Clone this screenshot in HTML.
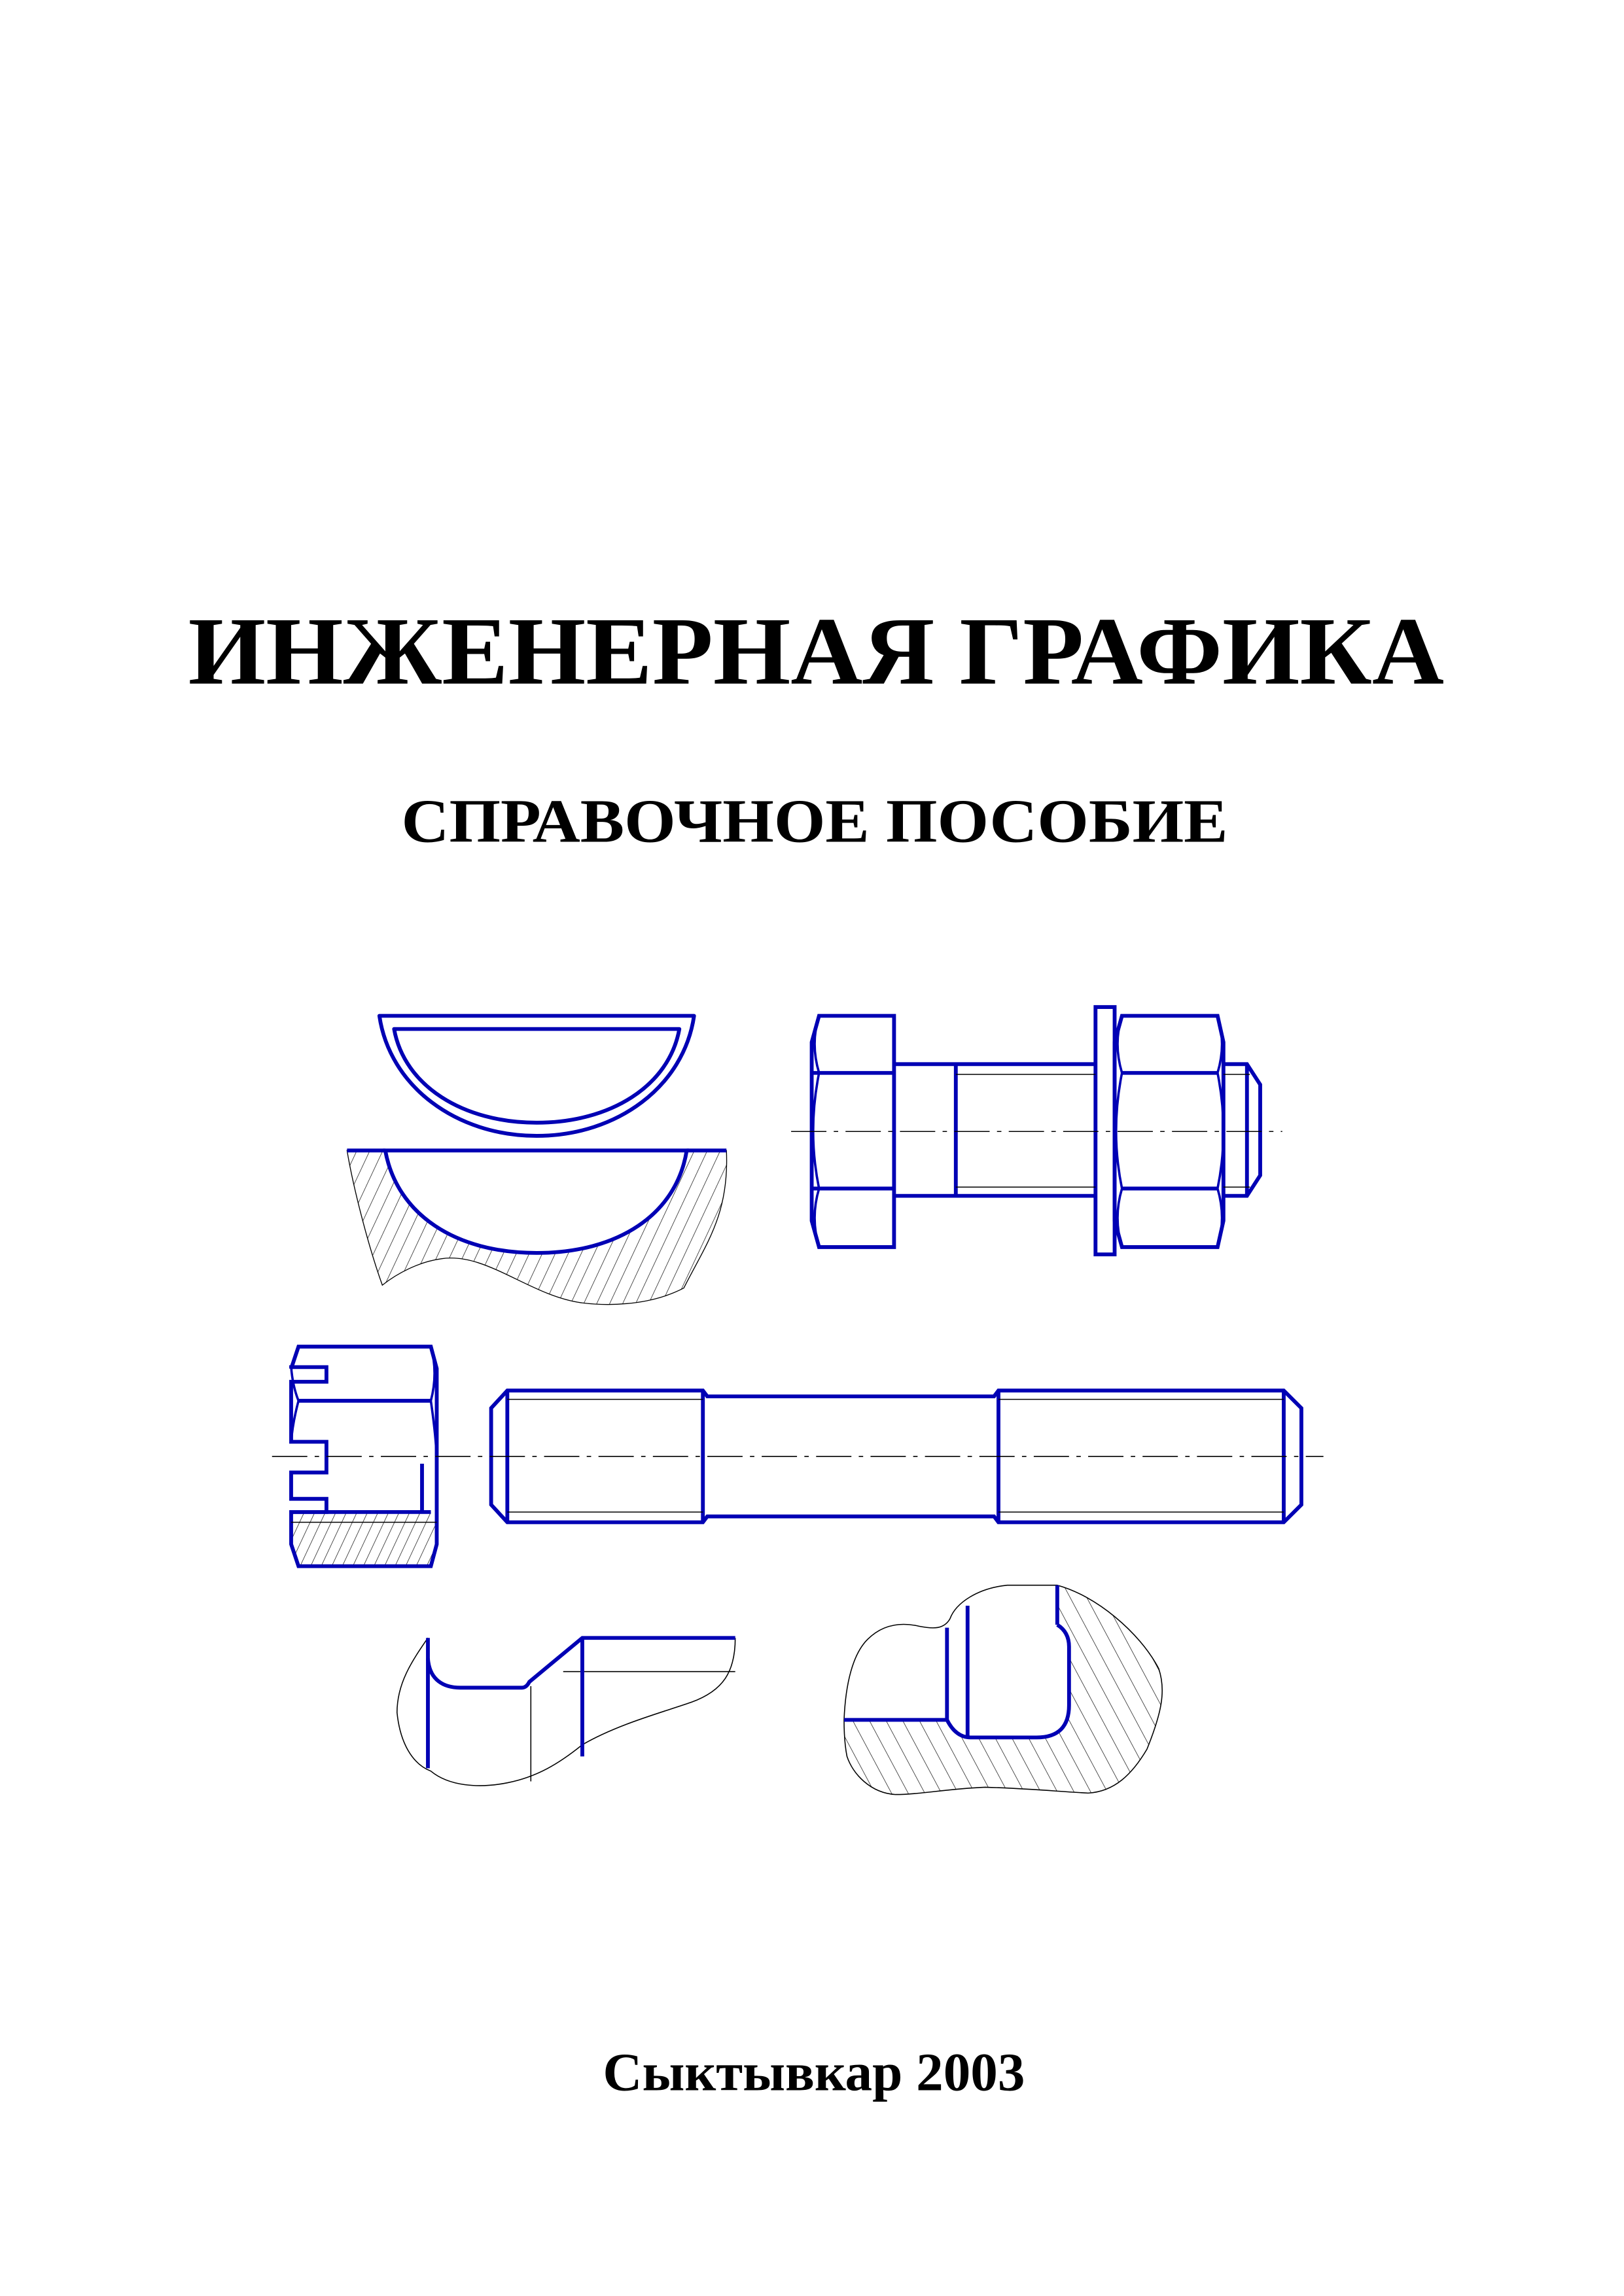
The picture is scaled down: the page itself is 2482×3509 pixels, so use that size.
<!DOCTYPE html>
<html><head><meta charset="utf-8"><style>
html,body{margin:0;padding:0;background:#fff;}
svg{display:block;}
</style></head><body>
<svg width="2482" height="3509" viewBox="0 0 1104.4 1568.6" preserveAspectRatio="none" xmlns="http://www.w3.org/2000/svg">
<defs>
<pattern id="h1" width="8" height="8" patternUnits="userSpaceOnUse" patternTransform="rotate(25)">
<line x1="0" y1="0" x2="0" y2="8" stroke="#000" stroke-width="0.6"/></pattern>
<pattern id="h2" width="10" height="10" patternUnits="userSpaceOnUse" patternTransform="rotate(-28)">
<line x1="0" y1="0" x2="0" y2="10" stroke="#000" stroke-width="0.6"/></pattern>
<pattern id="h3" width="6.5" height="6.5" patternUnits="userSpaceOnUse" patternTransform="rotate(25)">
<line x1="0" y1="0" x2="0" y2="6.5" stroke="#000" stroke-width="0.6"/></pattern>
</defs>
<rect width="1104.4" height="1568.6" fill="#fff"/>
<g font-family="'Liberation Serif','Noto Serif CJK SC',serif" font-weight="bold" fill="#000" text-anchor="start">
<text x="128" y="467" font-size="66" textLength="854" lengthAdjust="spacingAndGlyphs">ИНЖЕНЕРНАЯ ГРАФИКА</text>
<text x="273" y="575" font-size="42" textLength="562" lengthAdjust="spacingAndGlyphs">СПРАВОЧНОЕ ПОСОБИЕ</text>
<text x="410" y="1428" font-size="37" textLength="287" lengthAdjust="spacingAndGlyphs">Сыктывкар 2003</text>
</g>

<g fill="none" stroke="#0000b4" stroke-width="2.6" stroke-linejoin="round">
<path d="M258,694 L472,694 C465,742 420,776 365,776 C310,776 265,742 258,694 Z"/>
<path d="M268,703 L462,703 C455,742 415,767 365,767 C315,767 275,742 268,703 Z"/>
</g>
<path d="M236,786 L262,786 C270,830 310,856 365,856 C420,856 460,830 467,786 L494,786 C496,830 480,850 465,880 C440,893 410,892 395,890 C360,885 330,855 300,860 C285,862 270,870 260,878 C250,850 240,810 236,786 Z" fill="url(#h1)" stroke="#000" stroke-width="0.6"/>
<g fill="none" stroke="#0000b4" stroke-width="2.6">
<path d="M236,786 L262,786 M467,786 L494,786"/>
<path d="M262,786 L467,786 C460,830 420,856 365,856 C310,856 270,830 262,786 Z" fill="#fff"/>

<path d="M557,694 L608,694 L608,852 L557,852 L552,834 L552,712 Z"/>
<path d="M552,733 L608,733 M552,812 L608,812"/>
<path d="M557,694 Q551,713 557,733 M557,733 Q549,773 557,812 M557,812 Q551,832 557,852" stroke-width="1.6"/>
<path d="M608,727 Q610,727 612,727 L745,727 M608,817 L745,817 M650,727 L650,817"/>
<rect x="745" y="688" width="13" height="169"/>
<path d="M763,694 L828,694 L832,712 L832,834 L828,852 L763,852 L758,834 L758,712 Z"/>
<path d="M763,733 L828,733 M763,812 L828,812"/>
<path d="M763,694 Q757,713 763,733 M828,694 Q834,713 828,733 M763,733 Q755,773 763,812 M828,733 Q836,773 828,812 M763,812 Q757,832 763,852 M828,812 Q834,832 828,852" stroke-width="1.6"/>
<path d="M832,727 L848,727 L857,741 L857,803 L848,817 L832,817 M848,727 L848,817"/>
</g>
<g stroke="#000" stroke-width="0.7" fill="none">
<path d="M650,734 L745,734 M650,811 L745,811 M832,734 L850,734 M832,811 L850,811"/>
<path d="M538,773 L872,773" stroke-dasharray="24,5,3,5"/>
</g>

<path d="M198,1033 L293,1033 L297,1048 L297,1060 L293,1070 L203,1070 L198,1058 Z" fill="url(#h3)" stroke="none"/>
<g fill="none" stroke="#0000b4" stroke-width="2.6">
<path d="M203,920 L293,920 L297,935 L297,1055 L293,1070 L203,1070 L198,1055 L198,1033 L222,1033 L222,1024 L198,1024 L198,1006 L222,1006 L222,985 L198,985 L198,944 L222,944 L222,934 L198,934 L198,935 L203,920 Z"/>
<path d="M203,957 L293,957 M198,1033 L293,1033 M287,1000 L287,1033"/>
<path d="M198,934 Q199,947 203,957 M293,920 Q298,938 293,957 M203,957 Q199,972 198,985 M293,957 Q297,985 297,1000" stroke-width="1.6"/>
</g>
<path d="M198,1040 L297,1040" stroke="#000" stroke-width="0.7"/>

<g fill="none" stroke="#0000b4" stroke-width="2.6">
<path d="M345,950 L478,950 L481,954 L676,954 L679,950 L873,950 L885,962 L885,1028 L873,1040 L679,1040 L676,1036 L481,1036 L478,1040 L345,1040 L334,1028 L334,962 Z"/>
<path d="M345,950 L345,1040 M478,950 L478,1040 M679,950 L679,1040 M873,950 L873,1040"/>
</g>
<g stroke="#000" stroke-width="0.7" fill="none">
<path d="M345,956 L478,956 M345,1033 L478,1033 M679,956 L873,956 M679,1033 L873,1033"/>
<path d="M185,995 L900,995" stroke-dasharray="24,5,3,5"/>
</g>

<g fill="none" stroke="#000" stroke-width="0.7">
<path d="M291,1119 C280,1135 270,1150 270,1170 C272,1190 280,1205 293,1210 C305,1220 325,1222 345,1218 C365,1214 380,1205 396,1192 C420,1178 450,1170 470,1163 C492,1155 500,1142 500,1119"/>
<path d="M383,1142 L500,1142 M361,1152 L361,1217"/>
</g>
<g fill="none" stroke="#0000b4" stroke-width="2.6">
<path d="M291,1119 L291,1208"/>
<path d="M291,1133 C292,1148 302,1153 313,1153 L355,1153 Q358,1153 360,1149 L396,1119 L500,1119"/>
<path d="M396,1119 L396,1200"/>
</g>

<path d="M719,1083 C745,1090 775,1115 788,1140 C793,1155 790,1170 780,1195 C770,1212 758,1224 740,1225 C720,1224 702,1222 670,1221 C645,1222 625,1226 609,1226 C592,1225 580,1212 576,1200 C574,1190 574,1180 574,1175 L644,1175 Q650,1187 660,1187 L705,1187 Q727,1187 727,1165 L727,1125 Q727,1115 719,1110 Z" fill="url(#h2)" stroke="none"/>
<g fill="none" stroke="#000" stroke-width="0.7">
<path d="M574,1175 C575,1150 580,1130 590,1120 C600,1110 612,1108 625,1111 C635,1113 642,1113 646,1106 C650,1095 665,1085 685,1083 L719,1083 C745,1090 775,1115 788,1140 C793,1155 790,1170 780,1195 C770,1212 758,1224 740,1225 C720,1224 702,1222 670,1221 C645,1222 625,1226 609,1226 C592,1225 580,1212 576,1200 C574,1190 574,1180 574,1175"/>
</g>
<g fill="none" stroke="#0000b4" stroke-width="2.6">
<path d="M574,1175 L644,1175 Q650,1187 660,1187 L705,1187 Q727,1187 727,1165 L727,1125 Q727,1115 719,1110"/>
<path d="M644,1112 L644,1175 M658,1097 L658,1187 M719,1083 L719,1110"/>
</g>
</svg>
</body></html>
